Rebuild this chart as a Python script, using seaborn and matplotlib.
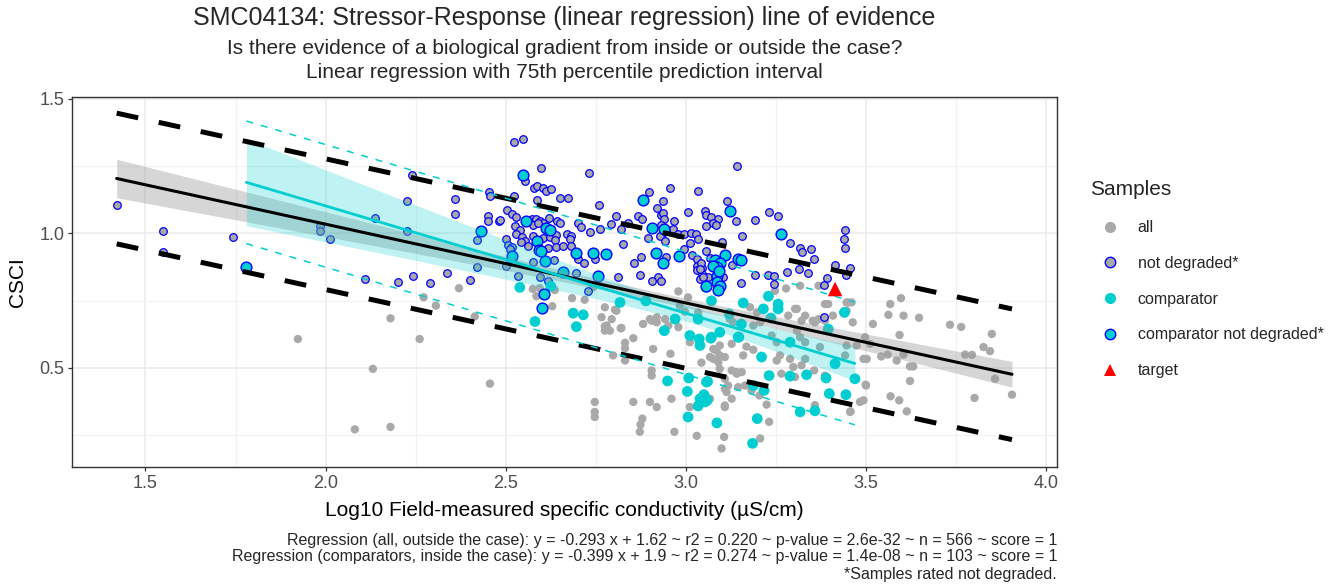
import numpy as np
import pandas as pd
import matplotlib
matplotlib.use("Agg")
import matplotlib.pyplot as plt
import seaborn as sns
from matplotlib.lines import Line2D

sns.set_theme(style="white")
plt.rcParams['font.family'] = ['Liberation Sans', 'DejaVu Sans']

# ---------------- data ----------------
all_x = [1.923, 2.131, 2.081, 2.180, 2.180, 2.261, 2.370, 2.272, 2.306, 2.414, 2.456,
         2.585, 2.594, 2.629, 2.636, 2.684, 2.719, 2.742, 2.575, 2.766, 2.775, 2.803, 2.794, 2.819,
         2.854, 2.831, 2.831, 2.881, 2.900, 2.919, 2.942, 2.951, 2.979, 2.909, 2.957, 2.798, 2.831,
         2.905, 2.905, 2.960, 2.854, 2.900, 2.919, 2.747, 2.747, 2.747, 2.879, 2.874, 2.872, 2.968,
         3.030, 3.099, 3.106, 2.979, 3.006, 2.983, 2.997, 3.043, 3.090, 3.094, 3.108, 3.108, 3.108,
         3.085, 3.094, 3.011, 2.807, 2.821, 2.905, 2.919, 3.011, 3.067, 3.117, 3.127, 3.067, 3.076,
         3.127, 3.034, 3.141, 2.775, 2.780, 2.775, 2.789,
         3.567, 3.597, 3.562, 3.604, 3.647, 3.519, 3.593, 3.733, 3.764, 3.849, 3.826, 3.844, 3.775,
         3.794, 3.858, 3.905, 3.801, 3.568, 3.592, 3.613, 3.622, 3.631, 3.622, 3.542, 3.560, 3.585,
         3.604, 3.499, 3.502, 3.493, 3.497, 3.511, 3.493, 3.483, 3.457, 3.463, 3.460, 3.446, 3.395,
         3.386, 3.368, 3.317, 3.278, 3.247, 3.331, 3.308, 3.284, 3.368, 3.358,
         3.206, 3.231, 3.224, 3.204, 3.182, 3.164, 3.141, 3.155, 3.127, 3.108, 3.265, 3.298, 3.321,
         3.356, 3.386, 3.261, 3.289, 3.331, 3.372, 3.331, 3.187, 3.159, 3.168, 3.108, 3.094, 3.076,
         3.252, 3.238, 3.206, 3.187, 3.122, 3.131, 3.178, 3.197, 3.308, 3.317, 3.446, 3.442, 3.474,
         3.145, 3.113, 3.358, 3.456, 3.500, 3.303, 3.252, 3.408, 3.386, 3.321, 3.352, 3.303, 3.446,
         3.451]
all_y = [0.607, 0.496, 0.271, 0.280, 0.684, 0.607, 0.796, 0.762, 0.731, 0.691, 0.441,
         0.766, 0.796, 0.729, 0.789, 0.759, 0.753, 0.799, 0.793, 0.688, 0.654, 0.716, 0.681, 0.647,
         0.610, 0.593, 0.573, 0.663, 0.681, 0.669, 0.681, 0.657, 0.651, 0.570, 0.552, 0.546, 0.527,
         0.490, 0.471, 0.385, 0.373, 0.373, 0.354, 0.373, 0.336, 0.317, 0.311, 0.289, 0.262, 0.262,
         0.247, 0.200, 0.243, 0.784, 0.762, 0.731, 0.709, 0.519, 0.521, 0.496, 0.459, 0.422, 0.360,
         0.564, 0.546, 0.595, 0.712, 0.648, 0.675, 0.688, 0.354, 0.385, 0.434, 0.385, 0.540, 0.570,
         0.589, 0.706, 0.484, 0.725, 0.657, 0.638, 0.638,
         0.737, 0.759, 0.697, 0.694, 0.686, 0.663, 0.622, 0.660, 0.652, 0.626, 0.577, 0.562, 0.549,
         0.548, 0.459, 0.400, 0.388, 0.394, 0.379, 0.338, 0.505, 0.505, 0.451, 0.542, 0.549, 0.527,
         0.549, 0.437, 0.533, 0.533, 0.614, 0.589, 0.379, 0.373, 0.338, 0.669, 0.743, 0.743, 0.737,
         0.737, 0.805, 0.805, 0.795, 0.786, 0.694, 0.719, 0.694, 0.681, 0.669,
         0.237, 0.299, 0.363, 0.397, 0.416, 0.434, 0.478, 0.484, 0.490, 0.354, 0.478, 0.503, 0.509,
         0.490, 0.471, 0.546, 0.533, 0.533, 0.577, 0.595, 0.567, 0.546, 0.579, 0.540, 0.583, 0.533,
         0.595, 0.620, 0.669, 0.657, 0.681, 0.669, 0.725, 0.706, 0.638, 0.614, 0.583, 0.546, 0.583,
         0.428, 0.410, 0.361, 0.336, 0.434, 0.466, 0.527, 0.694, 0.675, 0.675, 0.675, 0.719, 0.712,
         0.743]

nd_x = [1.420, 1.548, 1.548, 1.743, 1.983, 1.983, 2.011, 2.136, 2.109, 2.201,
        2.240, 2.226, 2.358, 2.358, 2.454, 2.451, 2.451, 2.481, 2.421, 2.421, 2.338, 2.243, 2.289,
        2.400, 2.226,
        2.522, 2.548, 2.599, 2.731, 2.553, 2.578, 2.588, 2.604, 2.613, 2.625, 2.456, 2.523, 2.588,
        2.650, 2.673, 2.759, 2.504, 2.516, 2.528, 2.483, 2.574, 2.585, 2.594, 2.604, 2.620, 2.643,
        2.650, 2.525, 2.539, 2.528, 2.576, 2.590, 2.701, 2.710, 2.733, 2.761, 2.546, 2.553, 2.541,
        2.576, 2.604, 2.622, 2.639, 2.636, 2.671, 2.682, 2.678, 2.500, 2.506, 2.518, 2.511, 2.562,
        2.618, 2.639, 2.659, 2.680, 2.701, 2.717, 2.747, 2.576, 2.633, 2.696, 2.534, 2.594, 2.618,
        2.511, 2.502,
        2.897, 2.956, 3.034, 3.143, 2.937, 2.919, 2.931, 2.937, 2.939, 3.006, 3.053, 3.057, 3.071,
        3.090, 3.076, 3.056, 3.083, 3.115, 3.138, 2.868, 2.879, 2.806, 2.792, 2.819, 2.838, 2.931,
        2.940, 2.968, 2.965, 2.979, 2.994, 3.014, 3.028, 3.034, 3.011, 2.928, 2.942, 2.894, 2.824,
        2.994, 2.946, 2.875, 2.856, 3.016, 3.032, 3.032, 3.032, 3.045, 3.045, 3.040, 3.057, 3.067,
        3.127, 2.812, 2.872, 2.923, 2.932, 2.907, 2.729,
        3.192, 3.231, 3.256, 3.156, 3.101, 3.043, 3.039, 3.062, 3.104, 3.048, 3.154, 3.192, 3.229,
        3.244, 3.244, 3.281, 3.289, 3.317, 3.321, 3.347, 3.356, 3.314, 3.340, 3.391, 3.383, 3.414,
        3.442, 3.440, 3.442, 3.456, 3.444, 3.383]
nd_y = [1.107, 1.009, 0.932, 0.986, 1.027, 1.009, 0.978, 1.058, 0.832, 0.820,
        1.216, 1.122, 1.126, 1.073, 1.154, 1.064, 1.046, 1.046, 0.975, 0.873, 0.852, 0.840, 0.817,
        0.826, 1.009,
        1.338, 1.352, 1.244, 1.225, 1.194, 1.169, 1.175, 1.169, 1.157, 1.163, 1.138, 1.138, 1.123,
        1.132, 1.132, 1.107, 1.086, 1.073, 1.060, 1.048, 1.052, 1.054, 1.046, 1.037, 1.058, 1.046,
        1.037, 1.027, 1.011, 0.996, 1.030, 1.037, 1.040, 1.025, 1.005, 1.015, 0.988, 0.972, 0.966,
        0.990, 0.981, 0.988, 0.994, 0.975, 0.999, 0.990, 0.978, 0.980, 0.956, 0.951, 0.941, 0.953,
        0.947, 0.949, 0.953, 0.953, 0.904, 0.888, 0.904, 0.895, 0.900, 0.854, 0.842, 0.838, 0.823,
        0.906, 0.879,
        1.153, 1.168, 1.157, 1.249, 1.120, 1.095, 1.070, 1.077, 1.052, 1.080, 1.083, 1.070, 1.062,
        1.054, 1.040, 1.027, 1.030, 1.120, 1.046, 1.064, 1.054, 1.064, 1.033, 1.017, 1.037, 1.030,
        1.005, 1.046, 1.015, 0.996, 0.999, 1.002, 0.996, 0.978, 0.963, 0.990, 0.972, 0.981, 0.959,
        0.943, 0.912, 0.912, 0.891, 0.919, 0.906, 0.879, 0.863, 0.872, 0.848, 0.830, 0.934, 0.910,
        0.883, 0.836, 0.846, 0.836, 0.823, 0.821, 0.784,
        1.048, 1.079, 1.064, 0.990, 0.969, 0.891, 0.867, 0.836, 0.836, 0.836, 0.817, 0.844, 0.844,
        0.842, 0.811, 0.858, 0.963, 0.944, 0.932, 0.941, 0.906, 0.867, 0.851, 0.835, 0.809, 0.883,
        1.012, 0.980, 0.944, 0.870, 0.844, 0.690]

comp_x = [2.539, 2.625, 2.581, 2.687, 2.715, 2.696, 2.817, 2.889, 2.940, 2.970, 3.011, 3.037,
          3.039, 3.069, 3.094, 3.034, 3.056, 3.071,
          2.949, 3.008, 3.060, 3.004, 3.050, 3.059, 3.034, 3.006, 3.086,
          3.159, 3.229, 3.256, 3.256, 3.215, 3.154, 3.147, 3.236, 3.210, 3.289, 3.395, 3.440, 3.414,
          3.469, 3.231, 3.289, 3.335, 3.389, 3.187, 3.217, 3.398, 3.444, 3.317, 3.358, 3.198, 3.185,
          3.057, 3.039, 3.053, 3.145, 3.071, 3.120]
comp_y = [0.799, 0.803, 0.672, 0.703, 0.697, 0.653, 0.743, 0.749, 0.638, 0.681, 0.620, 0.607,
          0.583, 0.610, 0.632, 0.681, 0.799, 0.749,
          0.451, 0.462, 0.449, 0.412, 0.400, 0.379, 0.358, 0.317, 0.295,
          0.741, 0.766, 0.737, 0.719, 0.719, 0.663, 0.614, 0.685, 0.540, 0.595, 0.644, 0.706, 0.515,
          0.459, 0.471, 0.469, 0.474, 0.462, 0.434, 0.416, 0.404, 0.400, 0.336, 0.340, 0.311, 0.219,
          0.447, 0.385, 0.373, 0.614, 0.614, 0.700]

compnd_x = [1.780, 2.548, 2.557, 2.613, 2.624, 2.432, 2.588, 2.592, 2.599, 2.696, 2.743, 2.778,
            2.659, 2.756, 2.516, 2.608, 2.607, 2.600,
            2.881, 2.906, 2.939, 2.917, 2.937, 2.981, 3.121, 3.081, 3.108, 3.094, 3.145, 3.085,
            3.085, 3.085, 3.094, 3.057, 3.090, 3.265, 3.152, 3.076, 3.092]
compnd_y = [0.875, 1.217, 1.046, 1.021, 1.012, 1.009, 0.972, 0.938, 0.934, 0.926, 0.926, 0.922,
            0.857, 0.842, 0.916, 0.897, 0.774, 0.722,
            1.123, 1.021, 1.015, 0.928, 0.888, 0.916, 1.083, 0.900, 0.919, 0.891, 0.904, 0.873,
            0.842, 0.820, 0.805, 0.805, 0.789, 0.999, 0.901, 0.879, 0.860]

target_x = [3.414]
target_y = [0.793]

# regression summaries (from the caption) and interval widths
all_slope, all_intercept = -0.293, 1.62
all_xrange = [1.42, 3.905]
all_pi_half = 0.243
all_ci = [2.93, 0.017, 0.046]      # centre, half-width at centre, growth

comp_slope, comp_intercept = -0.399, 1.9
comp_xrange = [1.78, 3.469]
comp_pi_half = 0.228
comp_ci = [3.02, 0.03, 0.128]

legend_labels = ["all", "not degraded*", "comparator", "comparator not degraded*", "target"]

title = "SMC04134: Stressor-Response (linear regression) line of evidence"
subtitle = ["Is there evidence of a biological gradient from inside or outside the case?",
            "Linear regression with 75th percentile prediction interval"]
caption = ["Regression (all, outside the case): y = -0.293 x + 1.62 ~ r2 = 0.220 ~ p-value = 2.6e-32 ~ n = 566 ~ score = 1",
           "Regression (comparators, inside the case): y = -0.399 x + 1.9 ~ r2 = 0.274 ~ p-value = 1.4e-08 ~ n = 103 ~ score = 1",
           "*Samples rated not degraded."]

# ---------------- plot ----------------
GRAY = "#A9A9A9"
CYAN = "#00CED1"
BLUE = "#0000FF"

fig = plt.figure(figsize=(13.3, 5.86), dpi=100)
ax = fig.add_axes([72/1330, 1-467/586, (1057-72)/1330, (467-97)/586])

sns.scatterplot(x=all_x, y=all_y, ax=ax, s=36, color=GRAY, edgecolor="none", zorder=2, legend=False)
sns.scatterplot(x=nd_x, y=nd_y, ax=ax, s=30, color=GRAY, edgecolor=BLUE, linewidth=0.9, zorder=3, legend=False)
sns.scatterplot(x=comp_x, y=comp_y, ax=ax, s=60, color=CYAN, edgecolor="none", zorder=4, legend=False)
sns.scatterplot(x=compnd_x, y=compnd_y, ax=ax, s=60, color=CYAN, edgecolor=BLUE, linewidth=1.0, zorder=5, legend=False)

def draw_fit(slope, intercept, xr, ci, pi_half, color, band_color, band_alpha, lw, dash_lw, dashes):
    xs = np.linspace(xr[0], xr[1], 200)
    ys = slope * xs + intercept
    half = np.sqrt(ci[1] ** 2 + (ci[2] * (xs - ci[0])) ** 2)
    ax.fill_between(xs, ys - half, ys + half, color=band_color, alpha=band_alpha, lw=0, zorder=6)
    sns.lineplot(x=xs, y=ys, ax=ax, color=color, lw=lw, zorder=7)
    for sgn in (1, -1):
        ax.plot(xs, ys + sgn * pi_half, color=color, lw=dash_lw, dashes=dashes, zorder=8,
                solid_capstyle="butt", dash_capstyle="butt")

draw_fit(all_slope, all_intercept, all_xrange, all_ci, all_pi_half, "black", "#999999", 0.4,
         2.2, 3.6, (4.4, 4.2))
draw_fit(comp_slope, comp_intercept, comp_xrange, comp_ci, comp_pi_half, CYAN, CYAN, 0.25,
         2.0, 1.1, (4.6, 5.2))

sns.scatterplot(x=target_x, y=target_y, ax=ax, s=110, marker="^", color="red", edgecolor="none",
                zorder=9, legend=False)

ax.set_xlim(1.296, 4.03)
ax.set_ylim(0.131, 1.507)
ax.set_xticks([1.5, 2.0, 2.5, 3.0, 3.5, 4.0])
ax.set_yticks([0.5, 1.0, 1.5])
ax.set_xticks([1.75, 2.25, 2.75, 3.25, 3.75], minor=True)
ax.set_yticks([0.25, 0.75, 1.25], minor=True)
ax.grid(True, which="major", color="#EBEBEB", lw=1.1, zorder=0)
ax.grid(True, which="minor", color="#F2F2F2", lw=0.9, zorder=0)
ax.set_axisbelow(True)
for sp in ax.spines.values():
    sp.set_color("#333333")
    sp.set_linewidth(1.0)
ax.tick_params(axis="both", which="major", length=3, width=0.9, color="#333333",
               labelsize=13, labelcolor="#4D4D4D", pad=2.5, bottom=True, left=True)
ax.tick_params(axis="both", which="minor", length=0)

ax.set_xlabel("Log10 Field-measured specific conductivity (µS/cm)", fontsize=15, color="black")
ax.set_ylabel("CSCI", fontsize=15, color="black")
ax.xaxis.set_label_coords(0.5, -(510-467)/370)
ax.xaxis.label.set_va("center")
ax.yaxis.set_label_coords((18-72)/985, 0.5)
ax.yaxis.label.set_va("center")

cx = (72 + 1057) / 2 / 1330
fig.text(cx, 1-18/586, title, ha="center", va="center", fontsize=18)
fig.text(cx, 1-48/586, subtitle[0], ha="center", va="center", fontsize=15)
fig.text(cx, 1-73/586, subtitle[1], ha="center", va="center", fontsize=15)
for yy, line in zip([540, 557, 575], caption):
    fig.text(1057/1330, 1-yy/586, line, ha="right", va="center", fontsize=11.5)

handles = [
    Line2D([], [], ls="none", marker="o", markersize=8, markerfacecolor=GRAY, markeredgecolor=GRAY, markeredgewidth=0),
    Line2D([], [], ls="none", marker="o", markersize=7.5, markerfacecolor=GRAY, markeredgecolor=BLUE, markeredgewidth=1.0),
    Line2D([], [], ls="none", marker="o", markersize=8, markerfacecolor=CYAN, markeredgecolor=CYAN, markeredgewidth=0),
    Line2D([], [], ls="none", marker="o", markersize=7.5, markerfacecolor=CYAN, markeredgecolor=BLUE, markeredgewidth=1.0),
    Line2D([], [], ls="none", marker="^", markersize=9, markerfacecolor="red", markeredgecolor="red", markeredgewidth=0),
]
leg = fig.legend(handles, legend_labels, title="Samples", loc="upper left",
                 bbox_to_anchor=(1084/1330, 1-174/586), frameon=False, fontsize=11.5,
                 title_fontsize=15, labelspacing=1.3, handletextpad=0.45,
                 borderaxespad=0, alignment="left", handlelength=2.5)

fig.savefig("out.png", dpi=100)
